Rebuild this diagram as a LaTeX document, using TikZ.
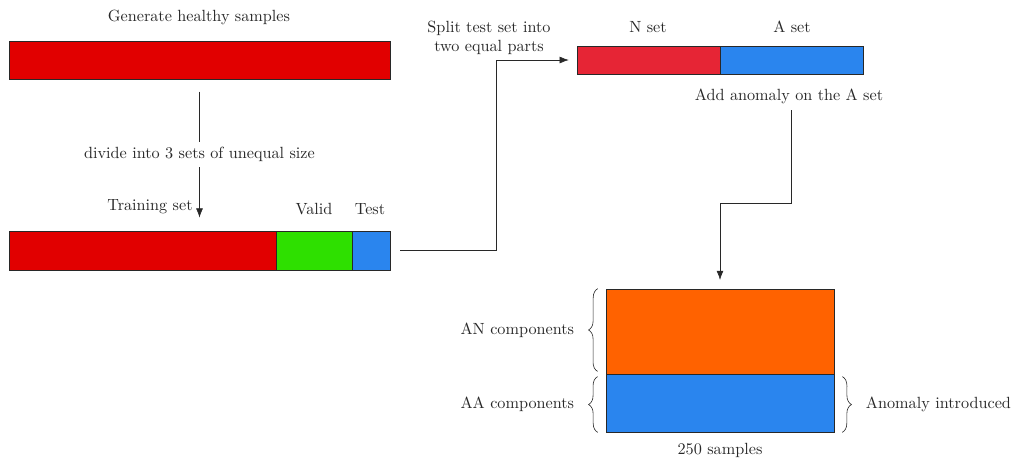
\documentclass[tikz,border=0pt]{standalone}
\usetikzlibrary{positioning,fit,arrows.meta,decorations.pathreplacing}
\definecolor{hred}{RGB}{225,0,0}
\definecolor{vgreen}{RGB}{46,224,0}
\definecolor{tblue}{RGB}{42,133,238}
\definecolor{nred}{RGB}{230,37,53}
\definecolor{anorange}{RGB}{255,98,0}
\definecolor{ink}{RGB}{40,40,40}
\begin{document}
\begin{tikzpicture}[x=0.023cm,y=-0.023cm,text=ink,font=\fontsize{10.6}{12.2}\selectfont,
	bar/.style={draw=ink,inner sep=0pt,line width=0.5pt},
	flow/.style={draw=ink,-{Latex[length=6pt,width=4.5pt]}},
	brace/.style={draw=ink,decorate,decoration={brace,amplitude=6pt}}]
	\useasboundingbox (0,0) rectangle (1014,459);
	\node (gen) at (199,17) {Generate healthy samples};
	\node[bar,fill=hred,fit={(9,41)(390,79)}] (healthy) {};
	\node[bar,fill=hred,fit={(9,231)(276,270)}] (train) {};
	\node[bar,fill=vgreen,fit={(276,231)(352,270)}] (valid) {};
	\node[bar,fill=tblue,fit={(352,231)(390,270)}] (test) {};
	\node (trainlbl) at (150,207) {Training set};
	\node (validlbl) at (314,209) {Valid};
	\node (testlbl) at (370,209) {Test};
	\draw[flow] ([yshift=-0.28cm]healthy.south) -- node[fill=white]{divide into 3 sets of unequal size} ([yshift=0.3cm]healthy.south |- train.north);
	\node[bar,fill=nred,fit={(577,46)(720,74)}] (nset) {};
	\node[bar,fill=tblue,fit={(720,46)(863,74)}] (aset) {};
	\node (nlbl) at (648,27) {N set};
	\node (albl) at (792,27) {A set};
	\node[align=center] (split) at (489,38) {Split test set into\\two equal parts};
	\draw[flow] ([xshift=0.23cm]test.east) -- ++(96,0) |- ([xshift=-0.18cm]nset.west);
	\node (addlbl) at (789,96) {Add anomaly on the A set};
	\node[bar,fill=anorange,fit={(606,289)(834,374)}] (an) {};
	\node[bar,fill=tblue,fit={(606,374)(834,432)}] (aa) {};
	\draw[flow] ([yshift=-0.83cm]aset.south) -- ++(0,93) -| ([yshift=0.2cm]an.north);
	\draw[brace] ([shift={(-8,-3)}]an.south west) -- node[left=0.42cm]{AN components} ([xshift=-0.18cm]an.north west);
	\draw[brace] ([xshift=-0.18cm]aa.south west) -- node[left=0.42cm]{AA components} ([shift={(-8,3)}]aa.north west);
	\draw[brace] ([shift={(8,3)}]aa.north east) -- node[right=0.42cm]{Anomaly introduced} ([xshift=0.18cm]aa.south east);
	\node (samples) at (720,450) {250 samples};
\end{tikzpicture}
\end{document}
